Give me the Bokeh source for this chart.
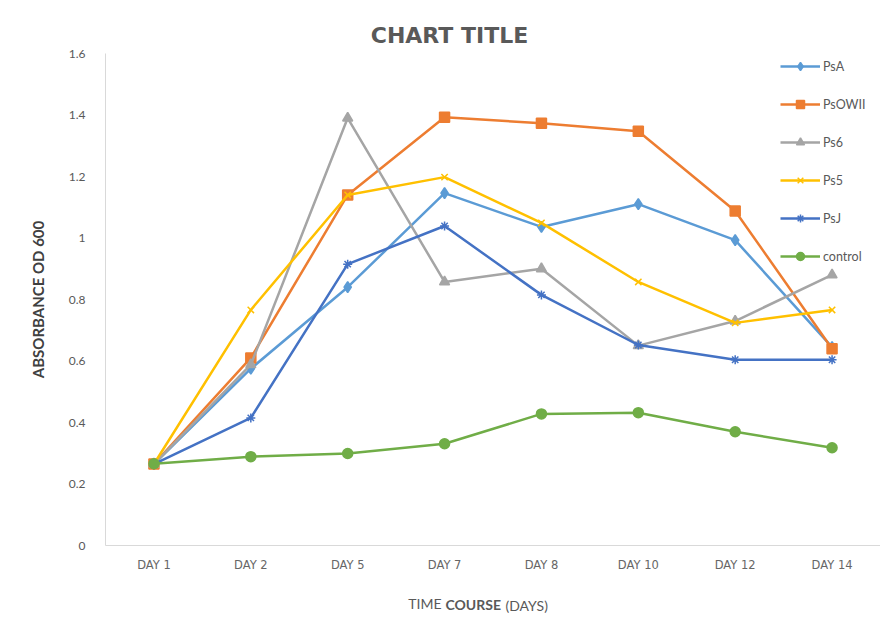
from bokeh.plotting import figure
from bokeh.models import (FactorRange, Range1d, FixedTicker, Label, Legend, LegendItem)
from bokeh.embed import file_html
from bokeh.resources import INLINE

days = ["DAY 1", "DAY 2", "DAY 5", "DAY 7", "DAY 8", "DAY 10", "DAY 12", "DAY 14"]
y_ticks = [0, 0.2, 0.4, 0.6, 0.8, 1.0, 1.2, 1.4, 1.6]
y_tick_labels = ["0", "0.2", "0.4", "0.6", "0.8", "1", "1.2", "1.4", "1.6"]

psa = [0.265, 0.575, 0.84, 1.146, 1.036, 1.11, 0.993, 0.645]
psowii = [0.265, 0.61, 1.14, 1.393, 1.373, 1.347, 1.088, 0.64]
ps6 = [0.265, 0.588, 1.39, 0.857, 0.9, 0.65, 0.73, 0.88]
ps5 = [0.265, 0.766, 1.14, 1.198, 1.049, 0.857, 0.724, 0.766]
psj = [0.265, 0.415, 0.915, 1.039, 0.815, 0.652, 0.604, 0.604]
control = [0.266, 0.289, 0.299, 0.331, 0.428, 0.432, 0.37, 0.318]

series = [
    ("PsA", psa, "#5B9BD5", "diamond", 11),
    ("PsOWII", psowii, "#ED7D31", "square", 10),
    ("Ps6", ps6, "#A5A5A5", "triangle", 10),
    ("Ps5", ps5, "#FFC000", "x", 9),
    ("PsJ", psj, "#4472C4", "asterisk", 9),
    ("control", control, "#70AD47", "circle", 10),
]

FONT = "Lato"
GREY = "#595959"
FL, FR, FT, FB = 105, 880, 53, 546

p = figure(width=880, height=625, x_range=FactorRange(*days), y_range=Range1d(0, 1.6),
           output_backend="svg", toolbar_location=None,
           min_border_left=FL, min_border_right=880 - FR, min_border_top=FT,
           min_border_bottom=625 - FB)

p.outline_line_color = None
p.xgrid.grid_line_color = None
p.ygrid.grid_line_color = None

p.yaxis.ticker = FixedTicker(ticks=y_ticks)
p.yaxis.major_label_overrides = {t: l for t, l in zip(y_ticks, y_tick_labels)}
for ax in (p.xaxis[0], p.yaxis[0]):
    ax.major_tick_line_color = None
    ax.minor_tick_line_color = None
    ax.axis_line_color = "#D9D9D9"
    ax.major_label_text_color = GREY
    ax.major_label_text_font = FONT
    ax.major_label_text_font_size = "12px"
p.xaxis.major_label_text_font = "DejaVu Sans"
p.xaxis.major_label_text_font_size = "11.5px"
p.xaxis.major_label_text_color = "#666666"
p.yaxis.major_label_standoff = 14
p.xaxis.major_label_standoff = 6

p.yaxis.axis_label = "ABSORBANCE OD 600"
p.yaxis.axis_label_text_font = FONT
p.yaxis.axis_label_text_font_size = "15px"
p.yaxis.axis_label_text_font_style = "bold"
p.yaxis.axis_label_text_color = "#404040"
p.yaxis.axis_label_standoff = 19

# chart title in its own panel above the frame
p.add_layout(Label(x=449 - FL, y=18, x_units="screen", y_units="screen", text="CHART TITLE",
                   text_font="DejaVu Sans", text_font_size="22px", text_font_style="bold",
                   text_color=GREY, text_align="center", text_baseline="middle"), "above")

items = []
for name, vals, col, mk, sz in series:
    r1 = p.line(days, vals, line_color=col, line_width=2.5)
    r2 = p.scatter(days, vals, marker=mk, size=sz, fill_color=col, line_color=col, line_width=1.5)
    items.append(LegendItem(label=name, renderers=[r1, r2]))

legend = Legend(items=items, location=(675, 279), padding=0, margin=0, spacing=18,
                glyph_width=40, glyph_height=20, label_standoff=3,
                label_text_font=FONT, label_text_font_size="12.5px", label_text_color=GREY,
                border_line_color=None, background_fill_alpha=0)
p.add_layout(legend, "center")

# x axis title: three stacked panels below, shifted onto one line
def xlab(text, x, y, bold=False, align="left"):
    p.add_layout(Label(x=x - FL, y=y, x_units="screen", y_units="screen", text=text,
                       text_font=FONT, text_font_size="14px", text_color=GREY,
                       text_font_style="bold" if bold else "normal",
                       text_align=align, text_baseline="middle"), "below")

xlab("TIME", 441, -12, align="right")
xlab("COURSE", 445, 4, bold=True)
xlab("(DAYS)", 505, 20)

open("out.html", "w").write(file_html(p, INLINE))
